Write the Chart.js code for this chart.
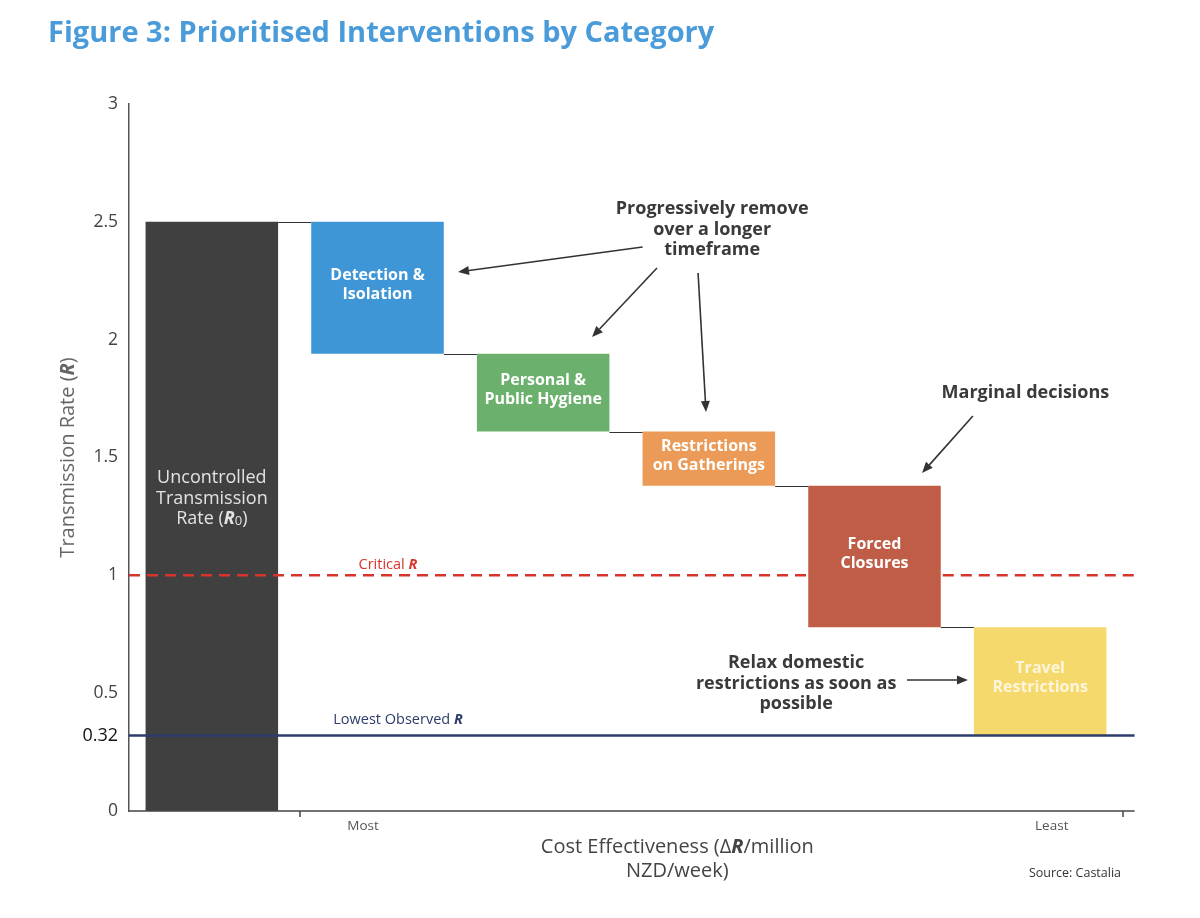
<!DOCTYPE html>
<html><head><meta charset="utf-8">
<script src="https://cdn.jsdelivr.net/npm/chart.js@4.4.1/dist/chart.umd.min.js"></script>
<style>html,body{margin:0;padding:0;background:#fff;}canvas{display:block;}</style>
</head><body>
<canvas id="c" width="1200" height="918"></canvas>
<script>
// ---- data ----
const categories = ['Uncontrolled Transmission Rate (R0)', 'Detection & Isolation', 'Personal & Public Hygiene', 'Restrictions on Gatherings', 'Forced Closures', 'Travel Restrictions'];
const barLow  = [0,   1.94, 1.61, 1.38, 0.78, 0.32];
const barHigh = [2.5, 2.5,  1.94, 1.61, 1.38, 0.78];
const yTicks = [0, 0.32, 0.5, 1, 1.5, 2, 2.5, 3];
const criticalR = 1;
const lowestR = 0.32;
const xTickLabels = ['Most', 'Least'];

// ---- styles ----
const barColors = ['#404040', '#3f96d7', '#6bb06d', '#eb9b57', '#c05d47', '#f6d96c'];
const barLabelLines = [null, ['Detection &', 'Isolation'], ['Personal &', 'Public Hygiene'], ['Restrictions', 'on Gatherings'], ['Forced', 'Closures'], ['Travel', 'Restrictions']];
const FF = "'Open Sans', 'DejaVu Sans', sans-serif";

function rich(ctx, segs, cx, cy, color) {
  let w = 0;
  segs.forEach(s => { ctx.font = s.f; s.w = ctx.measureText(s.t).width; w += s.w; });
  let x = cx - w / 2;
  ctx.textAlign = 'left'; ctx.textBaseline = 'middle';
  segs.forEach(s => { ctx.font = s.f; ctx.fillStyle = s.c || color; ctx.fillText(s.t, x, cy + (s.dy || 0)); x += s.w; });
}
function lines(ctx, arr, cx, cy, lh, font, color) {
  ctx.font = font; ctx.fillStyle = color; ctx.textAlign = 'center'; ctx.textBaseline = 'middle';
  arr.forEach((t, i) => ctx.fillText(t, cx, cy + i * lh));
}
function arrow(ctx, x1, y1, x2, y2) {
  ctx.save();
  ctx.strokeStyle = '#333'; ctx.fillStyle = '#333'; ctx.lineWidth = 1.6;
  const ang = Math.atan2(y2 - y1, x2 - x1), L = 11, W = 4.5;
  const bx = x2 - L * Math.cos(ang), by = y2 - L * Math.sin(ang);
  ctx.beginPath(); ctx.moveTo(x1, y1); ctx.lineTo(bx, by); ctx.stroke();
  ctx.beginPath(); ctx.moveTo(x2, y2);
  ctx.lineTo(bx + W * Math.sin(ang), by - W * Math.cos(ang));
  ctx.lineTo(bx - W * Math.sin(ang), by + W * Math.cos(ang));
  ctx.closePath(); ctx.fill();
  ctx.restore();
}

const overlay = {
  id: 'overlay',
  afterDatasetsDraw(chart) {
    const { ctx, chartArea: a, scales: { y } } = chart;
    const meta = chart.getDatasetMeta(0);
    const cw = a.width / categories.length;
    const X = u => a.left + u * cw;
    const Y = v => y.getPixelForValue(v);
    const xEnd = X(6.07);
    ctx.save();

    // connectors
    ctx.strokeStyle = '#333'; ctx.lineWidth = 1;
    for (let i = 0; i < categories.length - 1; i++) {
      const b0 = meta.data[i], b1 = meta.data[i + 1];
      const yy = Math.round(Y(barHigh[i + 1])) + 0.5;
      ctx.beginPath(); ctx.moveTo(b0.x + b0.width / 2, yy); ctx.lineTo(b1.x - b1.width / 2, yy); ctx.stroke();
    }

    // critical R dashed line (hidden behind Forced Closures bar)
    const fb = meta.data[4];
    const yc = Y(criticalR);
    ctx.strokeStyle = '#d8342c'; ctx.lineWidth = 2.5; ctx.setLineDash([11, 7]);
    ctx.beginPath(); ctx.moveTo(a.left, yc); ctx.lineTo(fb.x - fb.width / 2, yc); ctx.stroke();
    ctx.beginPath(); ctx.moveTo(fb.x + fb.width / 2 + 2, yc); ctx.lineTo(xEnd, yc); ctx.stroke();
    ctx.setLineDash([]);

    // lowest observed line
    const yl = Y(lowestR);
    ctx.strokeStyle = '#2c3d6b'; ctx.lineWidth = 2.5;
    ctx.beginPath(); ctx.moveTo(a.left, yl); ctx.lineTo(xEnd, yl); ctx.stroke();

    // x axis line + ticks
    ctx.strokeStyle = '#444'; ctx.lineWidth = 1.5;
    ctx.beginPath(); ctx.moveTo(a.left, a.bottom); ctx.lineTo(xEnd, a.bottom); ctx.stroke();
    [1.032, 6.0].forEach(u => { ctx.beginPath(); ctx.moveTo(X(u), a.bottom); ctx.lineTo(X(u), a.bottom + 6); ctx.stroke(); });
    ctx.font = '13.5px ' + FF; ctx.fillStyle = '#555'; ctx.textAlign = 'center'; ctx.textBaseline = 'middle';
    ctx.fillText(xTickLabels[0], X(1.413), a.bottom + 15);
    ctx.fillText(xTickLabels[1], X(5.57), a.bottom + 15);

    // line labels
    rich(ctx, [{ t: 'Critical ', f: '14.5px ' + FF }, { t: 'R', f: 'italic bold 14.5px ' + FF }], X(1.563), Y(1.044), '#d8342c');
    rich(ctx, [{ t: 'Lowest Observed ', f: '14.5px ' + FF }, { t: 'R', f: 'italic bold 14.5px ' + FF }], X(1.624), Y(0.386), '#2c3d6b');

    // bar labels
    const b0 = meta.data[0];
    const c0 = Y(1.326);
    lines(ctx, ['Uncontrolled', 'Transmission'], b0.x, c0 - 20.5, 20.5, '18px ' + FF, '#e2e2e2');
    rich(ctx, [{ t: 'Rate (', f: '18px ' + FF }, { t: 'R', f: 'italic bold 18px ' + FF }, { t: '0', f: '13px ' + FF, dy: 2 }, { t: ')', f: '18px ' + FF }], b0.x, c0 + 20.5, '#e2e2e2');
    for (let i = 1; i < categories.length; i++) {
      const b = meta.data[i];
      const cy = (b.y + b.base) / 2 - 3;
      lines(ctx, barLabelLines[i], b.x, cy - 9.5, 19, 'bold 16px ' + FF, i === 5 ? '#fdf6dc' : '#ffffff');
    }

    // annotations
    const ann = '#3a3a3a';
    const af = 'bold 18px ' + FF;
    lines(ctx, ['Progressively remove', 'over a longer', 'timeframe'], X(3.52), Y(2.554), 20.5, af, ann);
    arrow(ctx, X(3.10), Y(2.393), X(1.986), Y(2.287));
    arrow(ctx, X(3.187), Y(2.304), X(2.795), Y(2.011));
    arrow(ctx, X(3.435), Y(2.283), X(3.483), Y(1.693));
    lines(ctx, ['Marginal decisions'], X(5.411), Y(1.774), 20, af, ann);
    arrow(ctx, X(5.094), Y(1.676), X(4.787), Y(1.434));
    lines(ctx, ['Relax domestic', 'restrictions as soon as', 'possible'], X(4.027), Y(0.628), 20.5, af, ann);
    arrow(ctx, X(4.696), Y(0.556), X(5.064), Y(0.556));

    // axis titles
    ctx.save();
    ctx.translate(68, (a.top + a.bottom) / 2);
    ctx.rotate(-Math.PI / 2);
    rich(ctx, [{ t: 'Transmission Rate (', f: '20px ' + FF }, { t: 'R', f: 'italic bold 20px ' + FF }, { t: ')', f: '20px ' + FF }], 0, 0, '#666');
    ctx.restore();
    rich(ctx, [{ t: 'Cost Effectiveness (Δ', f: '20px ' + FF }, { t: 'R', f: 'italic bold 20px ' + FF }, { t: '/million', f: '20px ' + FF }], X(3.31), a.bottom + 36, '#444');
    lines(ctx, ['NZD/week)'], X(3.31), a.bottom + 60, 20, '20px ' + FF, '#444');
    ctx.font = '12.5px ' + FF; ctx.fillStyle = '#333'; ctx.textAlign = 'right'; ctx.textBaseline = 'middle';
    ctx.fillText('Source: Castalia', 1121, 873);

    // figure title
    ctx.font = 'bold 29px ' + FF; ctx.fillStyle = '#4a9bd9'; ctx.textAlign = 'left'; ctx.textBaseline = 'middle';
    ctx.fillText('Figure 3: Prioritised Interventions by Category', 48, 34);
    ctx.restore();
  }
};

new Chart(document.getElementById('c').getContext('2d'), {
  type: 'bar',
  data: {
    labels: categories,
    datasets: [{
      data: categories.map((_, i) => [barLow[i], barHigh[i]]),
      backgroundColor: barColors,
      borderWidth: 0,
      barPercentage: 0.8,
      categoryPercentage: 1
    }]
  },
  options: {
    responsive: false,
    animation: false,
    events: [],
    layout: { padding: { top: 104, bottom: 107, left: 0, right: 77 } },
    plugins: { legend: { display: false }, title: { display: false }, tooltip: { enabled: false } },
    scales: {
      x: { display: false },
      y: {
        min: 0, max: 3,
        afterBuildTicks: s => { s.ticks = yTicks.map(v => ({ value: v })); },
        afterFit: s => { s.width = 129; },
        grid: { display: false, drawTicks: false },
        border: { display: true, color: '#555', width: 1.5 },
        ticks: {
          padding: 11,
          color: c => (c.tick && c.tick.value === 0.32) ? '#111' : '#444',
          font: c => ({ family: FF, size: (c.tick && c.tick.value === 0.32) ? 18 : 17.5 }),
          callback: v => String(v)
        }
      }
    }
  },
  plugins: [overlay]
});
</script>
</body></html>
